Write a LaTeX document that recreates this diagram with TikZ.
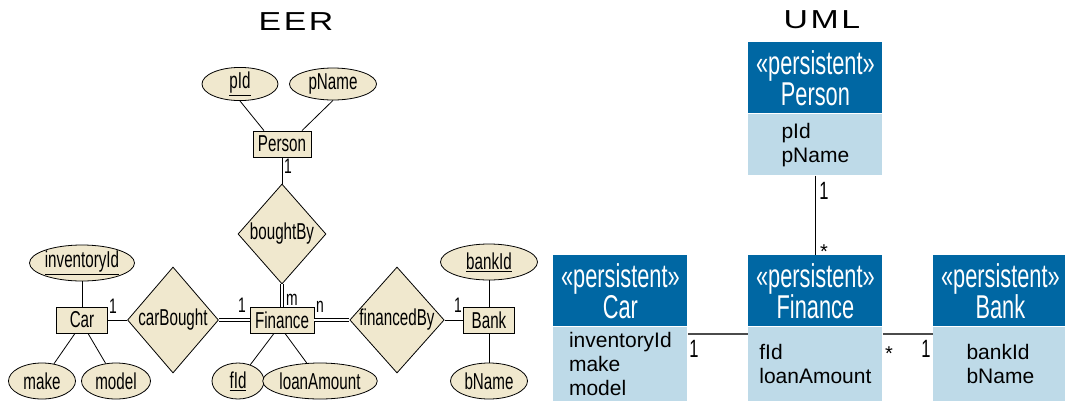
\documentclass[tikz,border=0pt]{standalone}
\usepackage{fontspec}
\setmainfont{Liberation Sans}
\newfontfamily\condfont[FakeStretch=0.66]{Liberation Sans}
\newfontfamily\titlefont[FakeStretch=1.3,LetterSpace=10]{Liberation Sans}
\usepackage{tikz}
\usetikzlibrary{shapes}
\usepackage{xcolor}
\definecolor{eerfill}{RGB}{240,232,206}
\definecolor{headblue}{RGB}{0,103,163}
\definecolor{bodyblue}{RGB}{190,218,232}
\definecolor{linkgray}{RGB}{75,75,75}
\newcommand{\eerfont}{\condfont\fontsize{23}{24}\selectfont}
\newcommand{\umlfont}{\condfont\fontsize{33}{31}\selectfont}
\newcommand{\attrfont}{\fontsize{21}{24}\selectfont}
\tikzstyle{entity}=[draw, fill=eerfill, minimum width=51pt, minimum height=26pt, inner xsep=5pt, inner ysep=0pt, font=\eerfont]
\tikzstyle{attr}=[ellipse, draw, fill=eerfill, minimum height=36pt, inner sep=0pt, font=\eerfont]
\tikzstyle{relation}=[diamond, draw, fill=eerfill, aspect=0.9, inner sep=0pt, font=\eerfont]
\tikzstyle{total}=[double, double distance=2.5pt]
\tikzstyle{card}=[anchor=base, inner sep=0pt, font=\condfont\fontsize{21}{21}\selectfont]
\tikzstyle{umlcard}=[anchor=base, inner sep=0pt, font=\condfont\fontsize{25}{25}\selectfont]
\tikzstyle{umlstar}=[anchor=base, inner sep=0pt, font=\fontsize{20}{20}\selectfont]
\tikzstyle{umlhead}=[fill=headblue, text=white, minimum width=134pt, minimum height=71pt, align=center, inner sep=0pt, font=\umlfont]
\tikzstyle{umlbody}=[fill=bodyblue, minimum width=134pt, align=left, inner sep=0pt, font=\attrfont]
\tikzstyle{link}=[draw=linkgray, line width=1.6pt]
\newcommand{\umlclass}[5]{
 \node[umlhead, anchor=north west] (#1) at #2 {«persistent»\\#3};
 \node[umlbody, minimum height=#4, anchor=north] (#1attr) at (#1.south) {#5};
}
\begin{document}
\begin{tikzpicture}[x=1pt, y=-1pt, line width=0.8pt]
 \useasboundingbox (0,0) rectangle (1065,400);
 \node[font=\titlefont\fontsize{26}{26}\selectfont] (eertitle) at (296,22) {EER};
 \node[font=\titlefont\fontsize{26}{26}\selectfont] (umltitle) at (822,20) {UML};
%
 \node[entity] (Person) at (282,144) {Person};
 \node[entity] (Car) at (82,320) {Car};
 \node[entity] (Finance) at (282,320) {Finance};
 \node[entity] (Bank) at (489,320) {Bank};
%
 \node[relation, minimum width=88pt, minimum height=100pt] (boughtBy) at (282,234) {boughtBy};
 \node[relation, minimum width=91pt, minimum height=106pt] (carBought) at (173,320) {carBought};
 \node[relation, minimum width=91pt, minimum height=106pt] (financedBy) at (397,320) {financedBy};
%
 \node[attr, minimum width=76pt, minimum height=32pt] (pId) at (240,84) {\underline{pId}};
 \node[attr, minimum width=87pt, minimum height=32pt] (pName) at (333,84) {pName};
 \node[attr, minimum width=101pt] (inventoryId) at (82,263) {\underline{inventoryId}};
 \node[attr, minimum width=67pt] (make) at (42,381) {make};
 \node[attr, minimum width=69pt] (model) at (116,381) {model};
 \node[attr, minimum width=52pt] (fId) at (238,381) {\underline{fId}};
 \node[attr, minimum width=94pt] (loanAmount) at (320,381) {loanAmount};
 \node[attr, minimum width=97pt] (bankId) at (489,262) {\underline{bankId}};
 \node[attr, minimum width=77pt] (bName) at (489,381) {bName};
%
 \draw (pId.south) -- ([xshift=-18pt]Person.north);
 \draw (pName.south) -- ([xshift=20pt]Person.north);
 \draw (Person) -- (boughtBy);
 \draw[total] (boughtBy) -- (Finance);
 \draw (inventoryId) -- (Car);
 \draw (make) -- ([xshift=-7pt]Car.south);
 \draw (model) -- ([xshift=6pt]Car.south);
 \draw (Car) -- (carBought);
 \draw[total] (carBought) -- (Finance);
 \draw[total] (Finance) -- (financedBy);
 \draw (financedBy) -- (Bank);
 \draw (fId) -- ([xshift=-8pt]Finance.south);
 \draw (loanAmount) -- ([xshift=3pt]Finance.south);
 \draw (bankId) -- (Bank);
 \draw (Bank) -- (bName);
%
 \node[card] (c1) at (288,173) {1};
 \node[card] (c2) at (113,313) {1};
 \node[card] (c3) at (242,312) {1};
 \node[card] (c4) at (292,305) {m};
 \node[card] (c5) at (320,312) {n};
 \node[card] (c6) at (458,312) {1};
%
 \umlclass{PersonClass}{(748,42)}{Person}{61pt}{pId\\pName}
 \umlclass{CarClass}{(553,255)}{Car}{74pt}{inventoryId\\make\\model}
 \umlclass{FinanceClass}{(748,255)}{Finance}{74pt}{fId\\loanAmount}
 \umlclass{BankClass}{(933,255)}{Bank}{74pt}{bankId\\bName}
%
 \draw[line width=1pt] (PersonClassattr) -- (FinanceClass);
 \draw[link] ([yshift=-7pt]CarClassattr.north east) -- ([yshift=-7pt]FinanceClassattr.north west);
 \draw[link] ([yshift=-7pt]FinanceClassattr.north east) -- ([yshift=-7pt]BankClassattr.north west);
%
 \node[umlcard] (u1) at (824,199) {1};
 \node[umlstar] (u2) at (824,258) {*};
 \node[umlcard] (u3) at (694,357) {1};
 \node[umlstar] (u4) at (889,360) {*};
 \node[umlcard] (u5) at (926,357) {1};
\end{tikzpicture}
\end{document}
